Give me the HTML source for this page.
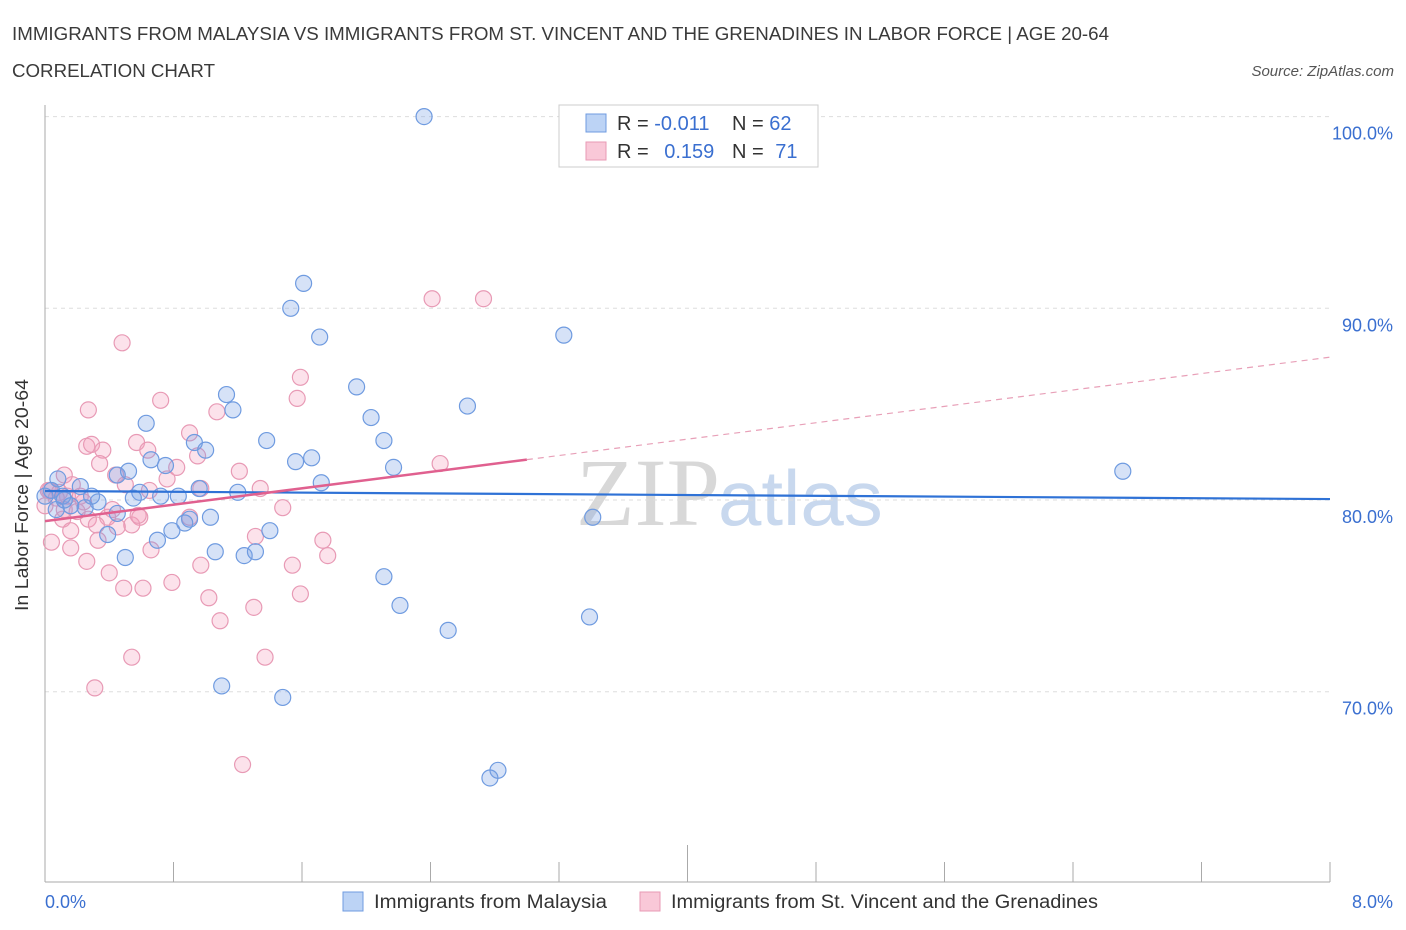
<!DOCTYPE html>
<html><head><meta charset="utf-8">
<style>
body{margin:0;background:#fff;font-family:"Liberation Sans",sans-serif;}
#wrap{position:relative;width:1406px;height:930px;overflow:hidden;}
</style></head>
<body>
<div id="wrap">
<svg id="chart" width="1406" height="930">
<text x="12" y="40" font-size="18" fill="#3a3a3a" textLength="1097" lengthAdjust="spacingAndGlyphs">IMMIGRANTS FROM MALAYSIA VS IMMIGRANTS FROM ST. VINCENT AND THE GRENADINES IN LABOR FORCE | AGE 20-64</text>
<text x="12" y="77" font-size="18" fill="#3a3a3a" textLength="203" lengthAdjust="spacingAndGlyphs">CORRELATION CHART</text>
<text x="1394" y="76" font-size="15" fill="#555" font-style="italic" text-anchor="end">Source: ZipAtlas.com</text>
<text x="720" y="525" font-size="96" fill="#d8d8d8" text-anchor="end" font-family="Liberation Serif">ZIP</text>
<text x="718" y="525" font-size="78" fill="#c8d8ee">atlas</text>
<g id="grid"></g><g id="axes"></g><g id="pts"></g><g id="trend"></g>
<text x="28" y="495" font-size="18" fill="#333" text-anchor="middle" transform="rotate(-90 28 495)" textLength="232" lengthAdjust="spacingAndGlyphs">In Labor Force | Age 20-64</text>
<text x="45" y="908" font-size="18" fill="#3a6fd0">0.0%</text>
<text x="1393" y="908" font-size="18" fill="#3a6fd0" text-anchor="end">8.0%</text>
<g>
<rect x="559" y="105" width="259" height="62" fill="#fff" stroke="#ccc"/>
<rect x="586" y="114" width="20" height="18" fill="#bcd3f5" stroke="#6f9be0"/>
<rect x="586" y="142" width="20" height="18" fill="#f9c8d8" stroke="#e89ab5"/>
<text x="617" y="130" font-size="20" fill="#333">R = <tspan fill="#3a6fd0">-0.011</tspan></text>
<text x="732" y="130" font-size="20" fill="#333">N = <tspan fill="#3a6fd0">62</tspan></text>
<text x="617" y="158" font-size="20" fill="#333">R = <tspan fill="#3a6fd0" dx="10">0.159</tspan></text>
<text x="732" y="158" font-size="20" fill="#333">N = <tspan fill="#3a6fd0" dx="6">71</tspan></text>
</g>
<g>
<rect x="343" y="892" width="20" height="19" fill="#bcd3f5" stroke="#6f9be0"/>
<text x="374" y="908" font-size="19" fill="#333" textLength="233" lengthAdjust="spacingAndGlyphs">Immigrants from Malaysia</text>
<rect x="640" y="892" width="20" height="19" fill="#f9c8d8" stroke="#e89ab5"/>
<text x="671" y="908" font-size="19" fill="#333" textLength="427" lengthAdjust="spacingAndGlyphs">Immigrants from St. Vincent and the Grenadines</text>
</g>
</svg>
</div>
<script>
const yTicks=[100,90,80,70];
const yTickLabels=["100.0%","90.0%","80.0%","70.0%"];
const xTicks=[0,0.8,1.6,2.4,3.2,4,4.8,5.6,6.4,7.2,8];
const blueX=[2.36,1.61,1.53,1.71,3.23,1.94,2.63,1.13,1.17,.63,2.03,1.38,2.11,.93,1.00,.66,.75,1.56,1.66,2.17,1.72,6.71,.52,.45,.08,.22,.04,.59,.55,.72,.83,1.20,.96,.11,.29,.33,.16,.25,.07,.45,1.03,.90,.87,.79,3.41,1.40,.39,.70,1.06,1.24,1.31,.50,2.11,2.21,3.39,2.51,1.10,1.48,2.82,2.77,0.0,.12];
const blueY=[100,91.3,90.0,88.5,88.6,85.9,84.9,85.5,84.7,84.0,84.3,83.1,83.1,83.0,82.6,82.1,81.8,82.0,82.2,81.7,80.9,81.5,81.5,81.3,81.1,80.7,80.5,80.4,80.1,80.2,80.2,80.4,80.6,80.2,80.2,79.9,79.7,79.6,79.5,79.3,79.1,79.0,78.8,78.4,79.1,78.4,78.2,77.9,77.3,77.1,77.3,77.0,76.0,74.5,73.9,73.2,70.3,69.7,65.9,65.5,80.2,80.0];
const pinkX=[2.41,2.73,.48,1.59,.72,1.57,.27,1.07,.90,.57,.26,.64,.29,.36,.95,.82,1.21,2.46,.34,.12,.44,1.34,.97,.50,.17,.02,.14,.09,.22,1.48,.59,.90,.39,.27,.11,.32,.54,.16,.45,1.31,1.73,.33,.04,.16,.66,1.76,.26,.97,1.54,.40,.79,.49,.61,1.59,1.02,1.30,1.09,.54,1.37,.31,1.23,0,.03,.07,.12,.20,.24,.42,.58,.65,.76];
const pinkY=[90.5,90.5,88.2,86.4,85.2,85.3,84.7,84.6,83.5,83.0,82.8,82.6,82.9,82.6,82.3,81.7,81.5,81.9,81.9,81.3,81.3,80.6,80.6,80.8,80.8,80.5,80.2,80.4,80.2,79.6,79.1,79.1,79.1,79.0,79.0,78.7,78.7,78.4,78.6,78.1,77.9,77.9,77.8,77.5,77.4,77.1,76.8,76.6,76.6,76.2,75.7,75.4,75.4,75.1,74.9,74.4,73.7,71.8,71.8,70.2,66.2,79.7,80.5,80.1,79.5,79.4,79.9,79.5,79.2,80.5,81.1];
const blueTrend=[80.47,80.05];
const pinkTrend=[78.9,87.45];
const pinkSolidEnd=3.0;
const NS="http://www.w3.org/2000/svg";
const X=v=>45+v/8*1285, Y=v=>500-(v-80)*19.17;
function mk(t,a,p){const e=document.createElementNS(NS,t);for(const k in a)e.setAttribute(k,a[k]);p.appendChild(e);return e;}
const grid=document.getElementById('grid'),axes=document.getElementById('axes'),pts=document.getElementById('pts'),tr=document.getElementById('trend');
yTicks.forEach((t,i)=>{
 const l=mk('line',{x1:45,x2:1330,y1:Y(t),y2:Y(t),stroke:'#ddd','stroke-dasharray':'4 4'},grid);
 
 
 const tx=mk('text',{x:1393,y:Y(t)+23,'font-size':18,fill:'#3a6fd0','text-anchor':'end'},grid);
 tx.textContent=yTickLabels[i];
 
 
});
const ya=mk('line',{x1:45,x2:45,y1:105,y2:882,stroke:'#aaa'},axes);


const xa=mk('line',{x1:45,x2:1330,y1:882,y2:882,stroke:'#aaa'},axes);


xTicks.forEach((t,i)=>{
 const l=mk('line',{x1:X(t),x2:X(t),y1:i==5?845:862,y2:882,stroke:'#aaa'},axes);
 
 
});
function dots(xs,ys,fill,stroke,name){xs.forEach((x,i)=>{
 const c=mk('circle',{cx:X(x),cy:Y(ys[i]),r:8,fill:fill,stroke:stroke,'stroke-width':1.2},pts);
 
 
});}
dots(pinkX,pinkY,'rgba(244,160,190,0.3)','#e89ab5','point-stvincent');
dots(blueX,blueY,'rgba(120,160,230,0.3)','#6f9be0','point-malaysia');
const bt=mk('line',{x1:X(0),x2:X(8),y1:Y(blueTrend[0]),y2:Y(blueTrend[1]),stroke:'#2f72d6','stroke-width':2.2},tr);


const pm=v=>pinkTrend[0]+(pinkTrend[1]-pinkTrend[0])*v/8;
const ps=mk('line',{x1:X(0),x2:X(pinkSolidEnd),y1:Y(pm(0)),y2:Y(pm(pinkSolidEnd)),stroke:'#e0608f','stroke-width':2.5},tr);


const pd=mk('line',{x1:X(pinkSolidEnd),x2:X(8),y1:Y(pm(pinkSolidEnd)),y2:Y(pm(8)),stroke:'#e8a0b8','stroke-width':1.2,'stroke-dasharray':'6 5'},tr);


</script>
</body></html>
